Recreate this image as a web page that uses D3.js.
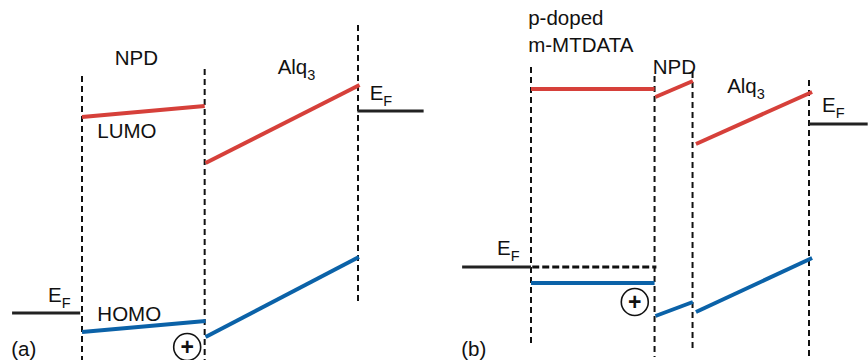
<!DOCTYPE html>
<html>
<head>
<meta charset="utf-8">
<script src="https://cdn.jsdelivr.net/npm/d3@7"></script>
<style>
  body { margin: 0; background: #fff; }
  text { font-family: "Liberation Sans", Arial, sans-serif; fill: #111; }
</style>
</head>
<body>
<script>
var width = 868;
var height = 360;

// position inside the stack (nm), energy (eV)
var panels = ['a', 'b'];

// panel (a): ITO / NPD / Alq3
var boundsA = [
  { x: 0, top: -1.52, bottom: -7.2 },
  { x: 40, top: -1.38, bottom: -7.2 },
  { x: 90, top: -0.5, bottom: -6.1 }
];
var lumoA = [
  { x0: 0, x1: 40, e0: -2.34, e1: -2.12 },
  { x0: 40.3, x1: 90.5, e0: -3.26, e1: -1.70 }
];
var homoA = [
  { x0: 0, x1: 40.3, e0: -6.64, e1: -6.42 },
  { x0: 40.3, x1: 90.3, e0: -6.74, e1: -5.14 }
];
var fermiA = [
  { x0: -22.8, x1: -0.6, e0: -6.26, e1: -6.26, dashed: false },
  { x0: 89.8, x1: 111.4, e0: -2.22, e1: -2.22, dashed: false }
];
var holesA = [{ x: 34.3, e: -6.94 }];
var labelsA = [
  { x: 10.7, e: -1.30, text: 'NPD' },
  { x: 5.0, e: -2.76, text: 'LUMO' },
  { x: 5.0, e: -6.42, text: 'HOMO' },
  { x: 63.8, e: -1.48, text: 'Alq', sub: '3' },
  { x: 93.8, e: -2.00, text: 'E', sub: 'F' },
  { x: -11.1, e: -6.04, text: 'E', sub: 'F' },
  { x: -23.1, e: -7.12, text: '(a)' }
];

// panel (b): p-doped m-MTDATA / NPD / Alq3
var boundsB = [
  { x: 0, top: -1.34, bottom: -6.94 },
  { x: 40, top: -1.52, bottom: -7.14 },
  { x: 52.3, top: -1.44, bottom: -7.04 },
  { x: 90, top: -1.6, bottom: -7.2 }
];
var lumoB = [
  { x0: 0, x1: 40, e0: -1.78, e1: -1.78 },
  { x0: 40.3, x1: 52.4, e0: -1.94, e1: -1.62 },
  { x0: 53.4, x1: 91, e0: -2.88, e1: -1.84 }
];
var homoB = [
  { x0: 0, x1: 40, e0: -5.66, e1: -5.66 },
  { x0: 40.3, x1: 52.4, e0: -6.32, e1: -6.04 },
  { x0: 53.4, x1: 91, e0: -6.24, e1: -5.16 }
];
var fermiB = [
  { x0: -22.3, x1: 0, e0: -5.34, e1: -5.34, dashed: false },
  { x0: 0.4, x1: 40.6, e0: -5.34, e1: -5.34, dashed: true },
  { x0: 90, x1: 109, e0: -2.48, e1: -2.48, dashed: false }
];
var holesB = [{ x: 33.6, e: -6.04 }];
var labelsB = [
  { x: -0.9, e: -0.50, text: 'p-doped' },
  { x: -0.9, e: -1.04, text: 'm-MTDATA' },
  { x: 39.4, e: -1.48, text: 'NPD' },
  { x: 63.5, e: -1.86, text: 'Alq', sub: '3' },
  { x: 94.2, e: -2.24, text: 'E', sub: 'F' },
  { x: -11.0, e: -5.10, text: 'E', sub: 'F' },
  { x: -22.6, e: -7.12, text: '(b)' }
];

var svg = d3.select('body')
            .append('svg')
            .attr('width', width)
            .attr('height', height);

var yScale = d3.scaleLinear()
                .domain([0, -7.2])
                .range([0, height]);

var xScales = {
  a: d3.scaleLinear().domain([0, 90]).range([82, 358]),
  b: d3.scaleLinear().domain([0, 90]).range([531, 809])
};

var data = {
  a: { bounds: boundsA, lumo: lumoA, homo: homoA, fermi: fermiA, holes: holesA, labels: labelsA },
  b: { bounds: boundsB, lumo: lumoB, homo: homoB, fermi: fermiB, holes: holesB, labels: labelsB }
};

panels.forEach(function (p) {
  var x = xScales[p];
  var d = data[p];
  var g = svg.append('g');

  g.selectAll('line.bound')
    .data(d.bounds)
    .enter()
    .append('line')
    .attr('class', 'bound')
    .attr('x1', function (b) { return x(b.x); })
    .attr('x2', function (b) { return x(b.x); })
    .attr('y1', function (b) { return yScale(b.top); })
    .attr('y2', function (b) { return yScale(b.bottom); })
    .attr('stroke', '#111')
    .attr('stroke-width', 2)
    .attr('stroke-dasharray', '6,4');

  function segs(cls, rows, color, w) {
    g.selectAll('line.' + cls)
      .data(rows)
      .enter()
      .append('line')
      .attr('class', cls)
      .attr('x1', function (s) { return x(s.x0); })
      .attr('x2', function (s) { return x(s.x1); })
      .attr('y1', function (s) { return yScale(s.e0); })
      .attr('y2', function (s) { return yScale(s.e1); })
      .attr('stroke', function (s) { return s.dashed ? '#111' : color; })
      .attr('stroke-width', w)
      .attr('stroke-dasharray', function (s) { return s.dashed ? '7,3' : null; });
  }

  segs('lumo', d.lumo, '#d6403a', 4);
  segs('homo', d.homo, '#0b62a8', 4);
  segs('fermi', d.fermi, '#222', 3);

  var holes = g.selectAll('g.hole')
    .data(d.holes)
    .enter()
    .append('g')
    .attr('class', 'hole')
    .attr('transform', function (h) { return `translate(${x(h.x)},${yScale(h.e)})`; });
  holes.append('circle')
    .attr('r', 13.5)
    .attr('fill', 'none')
    .attr('stroke', '#111')
    .attr('stroke-width', 1.6);
  holes.append('text')
    .attr('text-anchor', 'middle')
    .attr('y', 8)
    .style('font-size', '23px')
    .style('font-weight', 'bold')
    .text('+');

  var labels = g.selectAll('text.label')
    .data(d.labels)
    .enter()
    .append('text')
    .attr('class', 'label')
    .attr('x', function (l) { return x(l.x); })
    .attr('y', function (l) { return yScale(l.e); })
    .style('font-size', '20.5px');
  labels.append('tspan')
    .text(function (l) { return l.text; });
  labels.filter(function (l) { return l.sub; })
    .append('tspan')
    .attr('dy', 6)
    .style('font-size', '14.5px')
    .text(function (l) { return l.sub; });
});
</script>
</body>
</html>
